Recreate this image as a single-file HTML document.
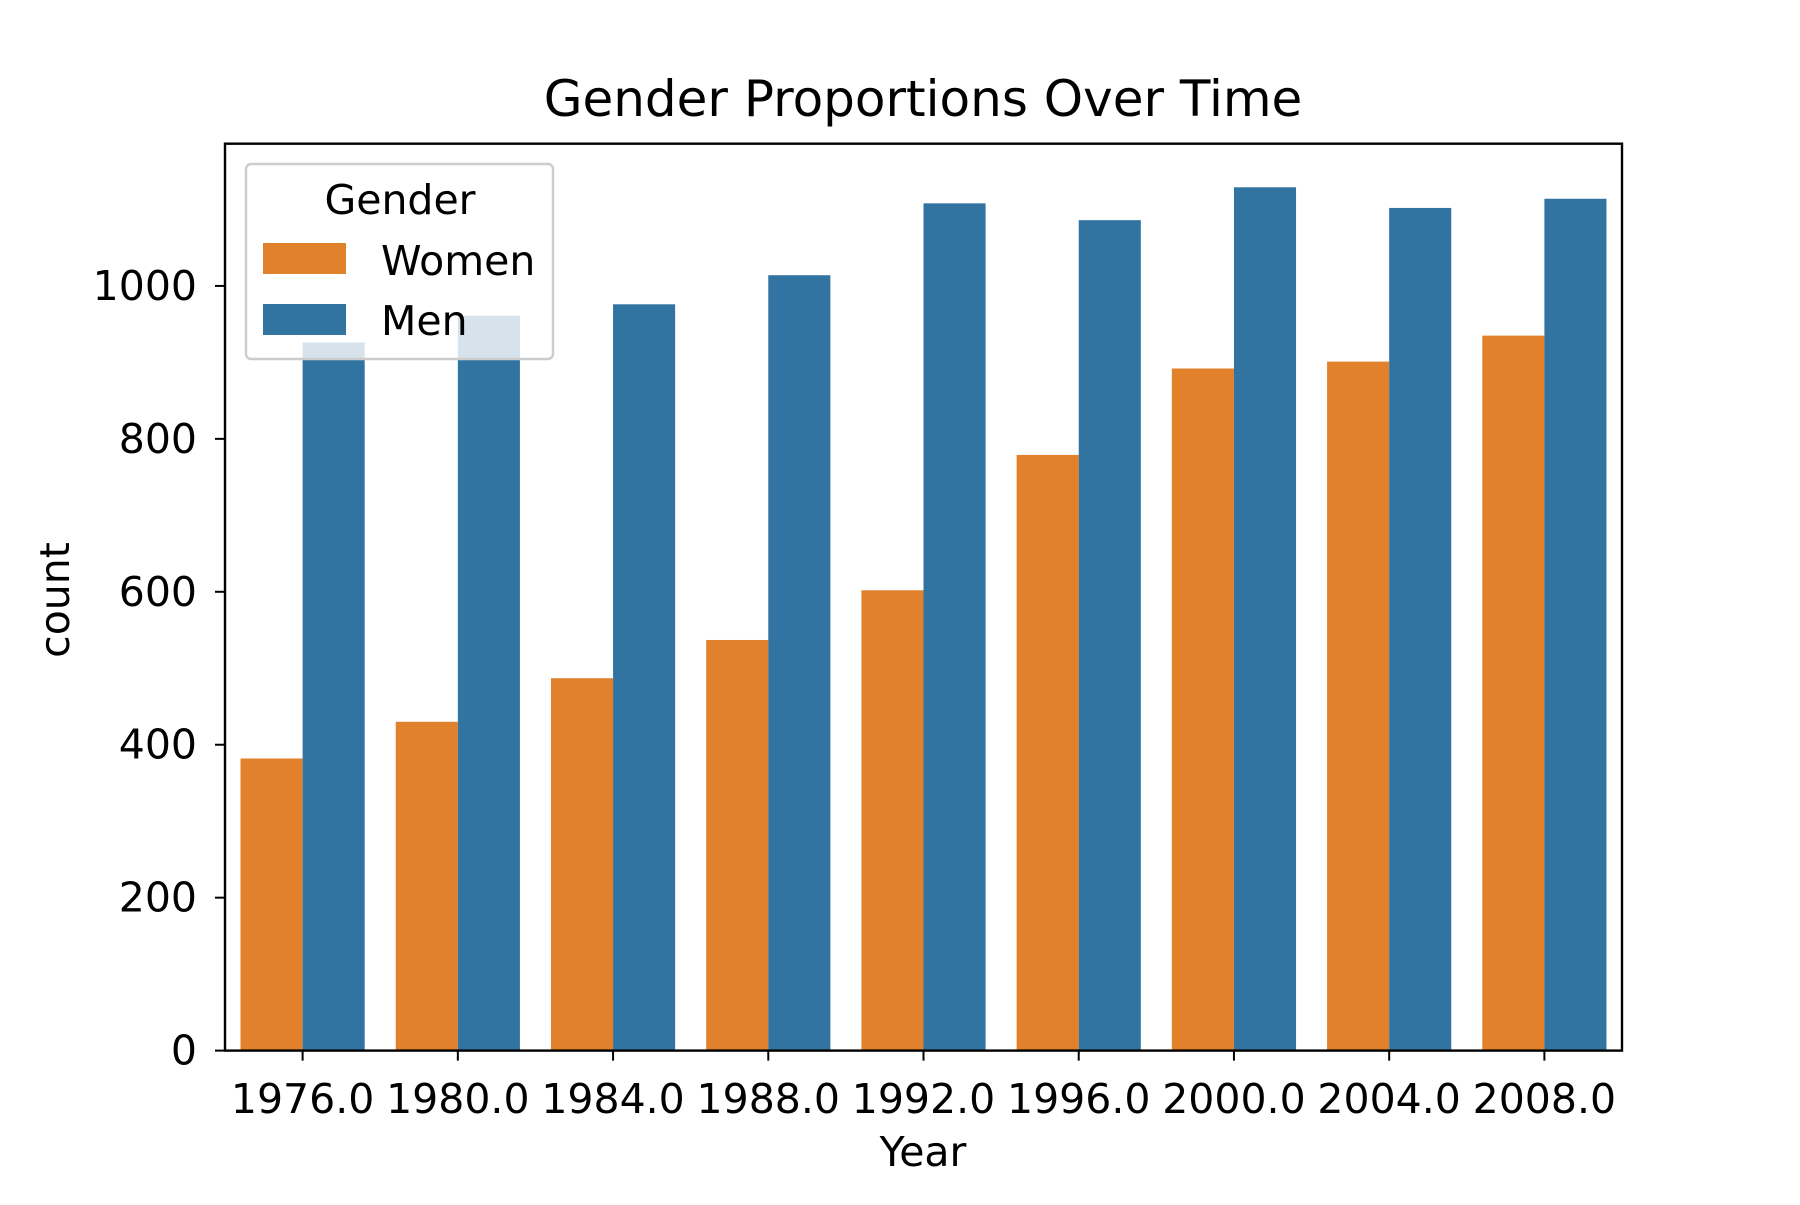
<!DOCTYPE html>
<html><head><meta charset="utf-8"><style>
body{margin:0;background:#fff}
text{font-family:"DejaVu Sans","Liberation Sans",sans-serif;fill:#000}
</style></head><body>
<svg id="chart" width="1800" height="1200" xmlns="http://www.w3.org/2000/svg">
<text x="923" y="116" font-size="50" text-anchor="middle">Gender Proportions Over Time</text>
<g id="bars"></g>
<g id="axes"></g>
<rect x="225" y="143.7" width="1397" height="906.9" fill="none" stroke="#000" stroke-width="2.4"/>
<text x="923" y="1166" font-size="41" text-anchor="middle">Year</text>
<text transform="translate(69,600) rotate(-90)" font-size="41" text-anchor="middle">count</text>
<g>
<rect x="246" y="164" width="307" height="195" rx="5" fill="#fff" fill-opacity="0.8" stroke="#ccc" stroke-width="2.4"/>
<text x="400" y="214" font-size="41" text-anchor="middle">Gender</text>
<rect x="263" y="243" width="83" height="31" fill="#e1812c"/>
<text x="381" y="275" font-size="41">Women</text>
<rect x="263" y="304" width="83" height="31" fill="#3274a1"/>
<text x="381" y="335" font-size="41">Men</text>
</g>
</svg>
<script>
const categories = ["1976.0","1980.0","1984.0","1988.0","1992.0","1996.0","2000.0","2004.0","2008.0"];
const women = [382, 430, 487, 537, 602, 779, 892, 901, 935];
const men = [926, 961, 976, 1014, 1108, 1086, 1129, 1102, 1114];
const yTicks = [0, 200, 400, 600, 800, 1000];
const NS = "http://www.w3.org/2000/svg";
const L = 225, R = 1622, B = 1050.6, T = 143.7, YMAX = 1186;
const step = (R - L) / categories.length;
function xc(i){ return L + step * (i + 0.5); }
function y(v){ return B - v / YMAX * (B - T); }
const bars = document.getElementById('bars');
const axes = document.getElementById('axes');
function mk(tag, attrs, parent){ const e = document.createElementNS(NS, tag); for (const k in attrs) e.setAttribute(k, attrs[k]); parent.appendChild(e); return e; }
const bw = step * 0.4;
categories.forEach((c, i) => {
  const w = mk('rect', {x: xc(i) - bw, y: y(women[i]), width: bw, height: B - y(women[i]), fill: '#e1812c'}, bars);
  
  
  const m = mk('rect', {x: xc(i), y: y(men[i]), width: bw, height: B - y(men[i]), fill: '#3274a1'}, bars);
  
  
  const t = mk('line', {x1: xc(i), x2: xc(i), y1: B, y2: B + 10, stroke: '#000', 'stroke-width': 2}, axes);
  
  
  const l = mk('text', {x: xc(i), y: 1113, 'font-size': 41, 'text-anchor': 'middle'}, axes);
  l.textContent = c;
  
  
});
yTicks.forEach(v => {
  const t = mk('line', {x1: L - 10, x2: L, y1: y(v), y2: y(v), stroke: '#000', 'stroke-width': 2}, axes);
  
  
  const l = mk('text', {x: L - 28, y: y(v) + 14, 'font-size': 41, 'text-anchor': 'end'}, axes);
  l.textContent = v;
  
  
});
</script>
</body></html>
